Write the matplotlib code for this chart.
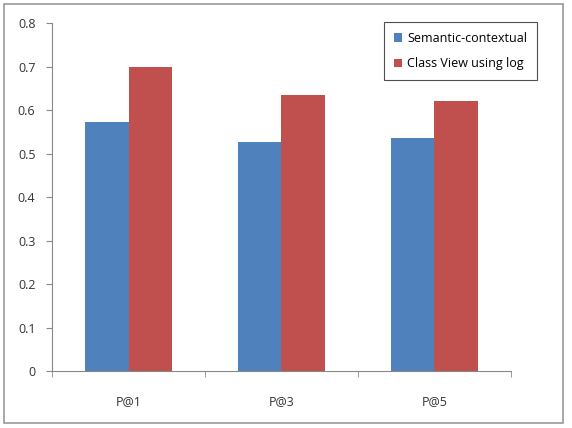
import matplotlib
matplotlib.use("Agg")
import matplotlib.pyplot as plt
import numpy as np
from matplotlib.patches import Rectangle

plt.rcParams["font.family"] = ["Open Sans", "DejaVu Sans"]

categories = ["P@1", "P@3", "P@5"]
semantic = [0.573, 0.526, 0.537]
class_view = [0.700, 0.634, 0.620]
series_names = ["Semantic-contextual", "Class View using log"]
y_ticks = [0, 0.1, 0.2, 0.3, 0.4, 0.5, 0.6, 0.7, 0.8]

fig = plt.figure(figsize=(5.72, 4.28), dpi=100)
ax = fig.add_axes([0.091, 0.133, 0.802, 0.813])

x = np.arange(len(categories))
w = 0.2857
ax.bar(x - w / 2, semantic, width=w, color="#4F81BD", label=series_names[0])
ax.bar(x + w / 2, class_view, width=w, color="#C0504D", label=series_names[1])

ax.set_xlim(-0.5, len(categories) - 0.5)
ax.set_ylim(0, 0.8)
ax.set_yticks(y_ticks)
ax.set_yticklabels(["0" if v == 0 else f"{v:.1f}" for v in y_ticks])
ax.set_xticks(x)
ax.set_xticklabels(categories)
ax.set_xticks(np.arange(-0.5, len(categories)), minor=True)
ax.tick_params(axis="x", which="major", length=0, pad=17, labelsize=9, colors="#333333")
ax.tick_params(axis="x", which="minor", length=4, color="#888888")
ax.tick_params(axis="y", length=4, color="#888888", labelsize=9, labelcolor="#333333", pad=8)

for s in ["top", "right"]:
    ax.spines[s].set_visible(False)
for s in ["left", "bottom"]:
    ax.spines[s].set_color("#888888")
    ax.spines[s].set_linewidth(0.8)

leg = ax.legend(loc="upper right", bbox_to_anchor=(1.07, 1.02), fontsize=9,
                frameon=True, fancybox=False, edgecolor="#222222",
                handlelength=0.7, handleheight=0.7, labelspacing=1.0,
                borderpad=0.75, handletextpad=0.4)
leg.get_frame().set_linewidth(0.8)

fig.patches.append(Rectangle((0.007, 0.012), 0.978, 0.978, transform=fig.transFigure,
                             fill=False, edgecolor="#999999", linewidth=1.2))

fig.savefig("out.png", dpi=100)
